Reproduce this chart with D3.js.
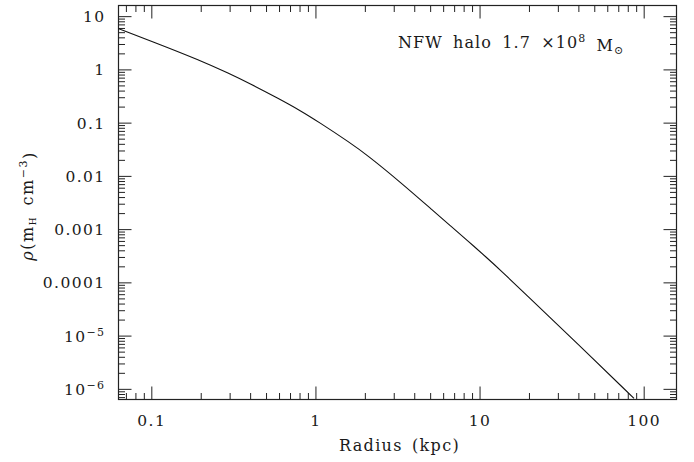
<!DOCTYPE html>
<html>
<head>
<meta charset="utf-8">
<script src="https://cdn.jsdelivr.net/npm/d3@7"></script>
<style>
  html, body { margin: 0; padding: 0; background: #fff; }
  svg { display: block; }
  text { font-family: "DejaVu Serif", "Liberation Serif", serif; fill: #1a1a1a; }
</style>
</head>
<body>
<svg id="chart" width="694" height="462"></svg>
<script>
// ---- data ----
const radiusKpc = [0.0625, 0.1, 0.198, 0.295, 0.402, 0.594, 0.81, 1.04, 1.63, 2.07, 3.30, 5.26, 6.65, 8.41, 11.1, 13.4, 19.5, 39.4, 87.3];
const densityMH = [5.87, 3.39, 1.48, 0.847, 0.533, 0.285, 0.168, 0.104, 0.0417, 0.0245, 0.00759, 0.00216, 0.00115, 6.17e-4, 2.88e-4, 1.70e-4, 5.62e-5, 7.16e-6, 6.61e-7];

const xTickValues = [0.1, 1, 10, 100];
const xTickLabels = ["0.1", "1", "10", "100"];
const yTickValues = [10, 1, 0.1, 0.01, 0.001, 0.0001, 1e-5, 1e-6];
const yTickLabels = ["10", "1", "0.1", "0.01", "0.001", "0.0001", "10", "10"];
const yTickExponents = [null, null, null, null, null, null, "\u22125", "\u22126"];

const xTitle = "Radius (kpc)";
const annotationText = ["NFW halo 1.7 \u00d710", "8", " M", "\u2299"];

// ---- layout ----
const W = 694, H = 462;
const plot = { left: 118.5, right: 676.5, top: 5.5, bottom: 399.5 };

const svg = d3.select("#chart");

const x = d3.scaleLog().domain([Math.pow(10, -1.2), Math.pow(10, 2.2)]).range([plot.left, plot.right]);
const y = d3.scaleLog().domain([Math.pow(10, -6.2), Math.pow(10, 1.2)]).range([plot.bottom, plot.top]);

function minorTicks(scale) {
  const [a, b] = scale.domain();
  const lo = Math.floor(Math.log10(Math.min(a, b)));
  const hi = Math.ceil(Math.log10(Math.max(a, b)));
  const out = [];
  for (let e = lo; e <= hi; e++) {
    for (let m = 2; m <= 9; m++) {
      const v = m * Math.pow(10, e);
      if (v >= Math.min(a, b) && v <= Math.max(a, b)) out.push(v);
    }
  }
  return out;
}

const MAJ = 13, MIN = 6.5;
const tickColor = "#222";

function styleAxis(g) {
  g.select(".domain").remove();
  g.selectAll(".tick line").attr("stroke", tickColor).attr("stroke-width", 1);
}

// bottom axis
svg.append("g").attr("transform", `translate(0,${plot.bottom})`)
  .call(d3.axisBottom(x).tickValues(minorTicks(x)).tickSize(-MIN).tickFormat(""))
  .call(styleAxis);
const gBottom = svg.append("g").attr("transform", `translate(0,${plot.bottom})`)
  .call(d3.axisBottom(x).tickValues(xTickValues).tickSize(-MAJ).tickPadding(15)
    .tickFormat((d, i) => xTickLabels[i]))
  .call(styleAxis);
gBottom.selectAll(".tick text").attr("font-size", 15.5).attr("letter-spacing", 1.5)
  .attr("font-family", "DejaVu Serif").attr("fill", "#1a1a1a");

// top axis
svg.append("g").attr("transform", `translate(0,${plot.top})`)
  .call(d3.axisTop(x).tickValues(minorTicks(x)).tickSize(-MIN).tickFormat(""))
  .call(styleAxis);
svg.append("g").attr("transform", `translate(0,${plot.top})`)
  .call(d3.axisTop(x).tickValues(xTickValues).tickSize(-MAJ).tickFormat(""))
  .call(styleAxis);

// left axis
svg.append("g").attr("transform", `translate(${plot.left},0)`)
  .call(d3.axisLeft(y).tickValues(minorTicks(y)).tickSize(-MIN).tickFormat(""))
  .call(styleAxis);
const gLeft = svg.append("g").attr("transform", `translate(${plot.left},0)`)
  .call(d3.axisLeft(y).tickValues(yTickValues).tickSize(-MAJ).tickPadding(13)
    .tickFormat((d, i) => yTickLabels[i]))
  .call(styleAxis);
gLeft.selectAll(".tick text")
  .attr("font-size", 15.5).attr("letter-spacing", 1.4)
  .attr("font-family", "DejaVu Serif").attr("fill", "#1a1a1a")
  .attr("dy", "0.36em")
  .each(function(d, i) {
    const exp = yTickExponents[i];
    if (exp) {
      const t = d3.select(this);
      t.text(yTickLabels[i]);
      t.append("tspan").attr("font-size", 11).attr("dy", "-0.55em").text(exp);
    }
  });

// right axis
svg.append("g").attr("transform", `translate(${plot.right},0)`)
  .call(d3.axisRight(y).tickValues(minorTicks(y)).tickSize(-MIN).tickFormat(""))
  .call(styleAxis);
svg.append("g").attr("transform", `translate(${plot.right},0)`)
  .call(d3.axisRight(y).tickValues(yTickValues).tickSize(-MAJ).tickFormat(""))
  .call(styleAxis);

// frame
svg.append("rect")
  .attr("x", plot.left).attr("y", plot.top)
  .attr("width", plot.right - plot.left).attr("height", plot.bottom - plot.top)
  .attr("fill", "none").attr("stroke", tickColor).attr("stroke-width", 1.2);

// curve
svg.append("clipPath").attr("id", "clip").append("rect")
  .attr("x", plot.left).attr("y", plot.top)
  .attr("width", plot.right - plot.left).attr("height", plot.bottom - plot.top);

const pts = radiusKpc.map((r, i) => ({ r, rho: densityMH[i] }));
svg.append("path")
  .datum(pts)
  .attr("clip-path", "url(#clip)")
  .attr("fill", "none")
  .attr("stroke", "#111")
  .attr("stroke-width", 1.1)
  .attr("d", d3.line().x(d => x(d.r)).y(d => y(d.rho)).curve(d3.curveBasis));

// x title
svg.append("text")
  .attr("x", (plot.left + plot.right) / 2 + 2).attr("y", 451)
  .attr("text-anchor", "middle").attr("font-size", 16).attr("letter-spacing", 1.3)
  .attr("word-spacing", 3)
  .text(xTitle);

// y title
const yt = svg.append("text")
  .attr("transform", "translate(33,206) rotate(-90)")
  .attr("text-anchor", "middle").attr("font-size", 16).attr("letter-spacing", 1.5)
  .attr("word-spacing", 4);
yt.append("tspan").attr("font-style", "italic").text("\u03c1");
yt.append("tspan").text("(m");
yt.append("tspan").attr("font-size", 9).attr("dy", "0.35em").text("H");
yt.append("tspan").attr("dy", "-0.2em").text(" cm");
yt.append("tspan").attr("font-size", 11).attr("dy", "-0.5em").text("\u22123");
yt.append("tspan").attr("dy", "0.45em").text(")");

// annotation
const an = svg.append("text")
  .attr("x", 398).attr("y", 48)
  .attr("font-size", 16).attr("letter-spacing", 1.1).attr("word-spacing", 4);
an.append("tspan").text(annotationText[0]);
an.append("tspan").attr("font-size", 11).attr("dy", "-0.55em").text(annotationText[1]);
an.append("tspan").attr("dy", "0.55em").text(annotationText[2]);
an.append("tspan").attr("font-size", 11).attr("dy", "0.3em").text(annotationText[3]);
</script>
</body>
</html>
